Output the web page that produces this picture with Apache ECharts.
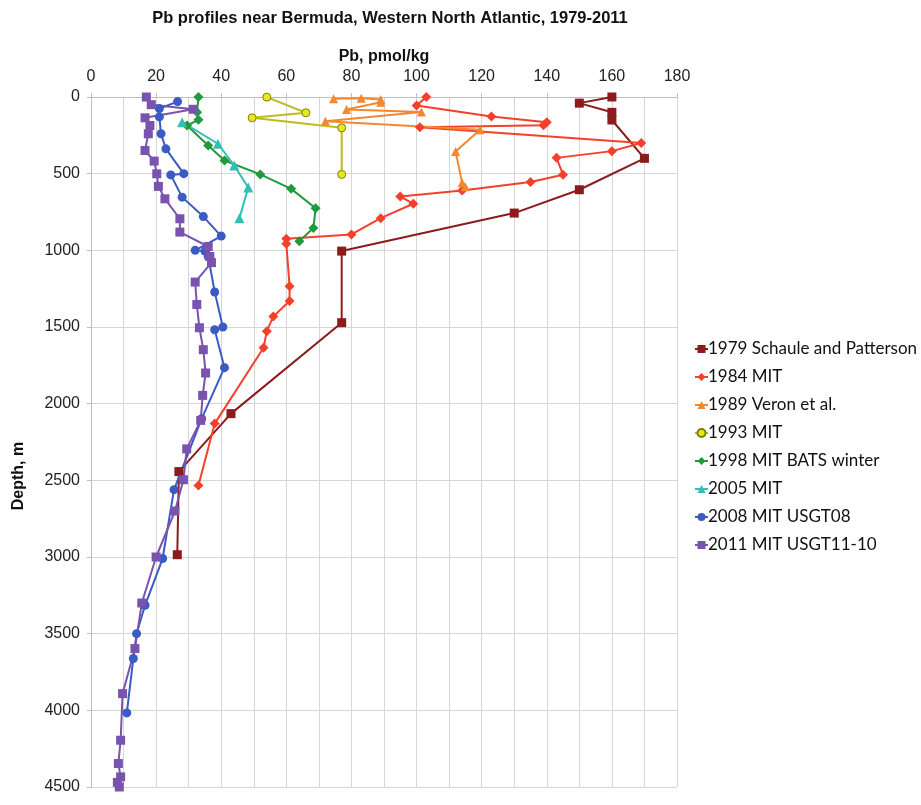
<!DOCTYPE html>
<html>
<head>
<meta charset="utf-8">
<title>Pb profiles near Bermuda</title>
<script src="https://cdn.jsdelivr.net/npm/echarts@6/dist/echarts.min.js"></script>
<style>
  html, body { margin: 0; padding: 0; background: #fff; }
  #chart { width: 921px; height: 805px; }
</style>
</head>
<body>
<div id="chart"></div>
<script>
// Pb concentration (pmol/kg) versus depth (m), one profile per cruise: [Pb, depth]
const seriesNames = [
  '1979 Schaule and Patterson',
  '1984 MIT',
  '1989 Veron et al.',
  '1993 MIT',
  '1998 MIT BATS winter',
  '2005 MIT',
  '2008 MIT USGT08',
  '2011 MIT USGT11-10'
];

const pb1979 = [[160,0],[150,40],[160,100],[160,150],[170,400],[150,605],[130,757],[77,1005],[77,1472],[43,2065],[27,2443],[26.5,2985]];
const pb1984 = [[103,0],[100,55],[123,127],[140,165],[139,185],[101,197],[169,300],[160,353],[143,397],[145,507],[135,555],[114,610],[95,649],[99,696],[89,790],[80,896],[60,925],[60,957],[61,1235],[61,1331],[56,1431],[54,1527],[53,1635],[38,2130],[33,2533]];
const pb1989 = [[74.5,12],[83,8],[89,16],[89,34],[78.5,82],[101.5,98],[72,158],[119.5,214],[112,355],[114,560],[115,585]];
const pb1993 = [[54,1],[66,103],[49.5,136],[77,201],[77,505]];
const pb1998 = [[33,0],[32.6,99],[33,149],[29.5,186],[36,316],[41,414],[52,505],[61.5,599],[69,725],[68.3,855],[64,940]];
const pb2005 = [[28,164],[39,305],[44,447],[48.3,590],[45.6,790]];
const pb2008 = [[26.6,30],[21,75],[21,130],[21.5,240],[23,338],[28.5,500],[24.5,508],[28,653],[34.5,780],[40,907],[32,1000],[35,1005],[36,1040],[38,1272],[40.5,1500],[38,1518],[41,1765],[34,2098],[25.5,2561],[22,3010],[16.6,3315],[14,3500],[13,3662],[11,4017]];
const pb2011 = [[17,0],[18.5,50],[31.4,80],[16.6,136],[18.1,186],[17.6,240],[16.6,349],[19.4,418],[20.2,501],[20.7,583],[22.7,664],[27.3,794],[27.3,881],[36,975],[36.5,1040],[37,1080],[32,1207],[32.5,1353],[33.3,1505],[34.5,1648],[35.2,1800],[34.3,1946],[33.7,2109],[29.4,2295],[28.4,2496],[25.8,2700],[20,3000],[15.6,3300],[13.5,3597],[9.7,3891],[9.1,4195],[8.4,4347],[9.1,4434],[8.1,4470],[8.7,4500]];

const profiles = [pb1979, pb1984, pb1989, pb1993, pb1998, pb2005, pb2008, pb2011];

// Line colour, marker shape/size and marker fill for each profile
const lineColors = ['#8c1b1b', '#f4402a', '#f6872f', '#bcbd1c', '#1f9a3d', '#33bfb6', '#3b5bc4', '#7a53ae'];
const markerShapes = ['rect', 'diamond', 'triangle', 'circle', 'diamond', 'triangle', 'circle', 'rect'];
const markerSizes = [9, 10, 9, 8, 10, 10, 9, 9];
const markerFills = ['#8c1b1b', '#f4402a', '#f6872f', '#e8e81c', '#1f9a3d', '#33bfb6', '#3b5bc4', '#7a53ae'];

// Axis ranges and ticks
const pbMin = 0, pbMax = 180, pbStep = 20;
const depthMin = 0, depthMax = 4500, depthStep = 500;

const chart = echarts.init(document.getElementById('chart'), null, { renderer: 'canvas' });

const gridColor = '#d6d6d6';
const axisFont = 'Liberation Sans, Arial, sans-serif';

const series = profiles.map((data, i) => ({
  name: seriesNames[i],
  type: 'line',
  data: data,
  symbol: markerShapes[i],
  symbolSize: markerSizes[i],
  showAllSymbol: true,
  clip: true,
  lineStyle: { color: lineColors[i], width: 2 },
  itemStyle: {
    color: markerFills[i],
    borderColor: i === 3 ? '#7d7e10' : markerFills[i],
    borderWidth: i === 3 ? 1 : 0
  },
  emphasis: { disabled: true },
  animation: false
}));

chart.setOption({
  backgroundColor: '#fff',
  animation: false,
  title: {
    text: 'Pb profiles near Bermuda, Western North Atlantic, 1979-2011',
    left: 385,
    top: 5,
    textAlign: 'center',
    textStyle: { fontFamily: axisFont, fontSize: 16.5, fontWeight: 'bold', color: '#111' }
  },
  legend: {
    orient: 'vertical',
    left: 689,
    top: 335,
    itemWidth: 13,
    itemHeight: 10,
    itemGap: 10,
    data: seriesNames,
    textStyle: { fontFamily: 'Lato, sans-serif', fontSize: 17, lineHeight: 18, color: '#111', padding: [0, 0, 0, -5] }
  },
  grid: { left: 91, right: 244, top: 97, bottom: 18, containLabel: false },
  xAxis: {
    type: 'value',
    position: 'top',
    min: pbMin,
    max: pbMax,
    interval: pbStep,
    name: 'Pb, pmol/kg',
    nameLocation: 'middle',
    nameGap: 32,
    nameTextStyle: { fontFamily: axisFont, fontSize: 16, fontWeight: 'bold', color: '#111' },
    axisLine: { show: true, lineStyle: { color: '#bdbdbd', width: 1 } },
    axisTick: { show: true, length: 4, lineStyle: { color: '#bdbdbd' } },
    axisLabel: { fontFamily: axisFont, fontSize: 16, color: '#222', margin: 12 },
    splitLine: { show: true, lineStyle: { color: gridColor, width: 1 } },
    minorTick: { show: false, splitNumber: 2 },
    minorSplitLine: { show: true, lineStyle: { color: gridColor, width: 1 } }
  },
  yAxis: {
    type: 'value',
    inverse: true,
    min: depthMin,
    max: depthMax,
    interval: depthStep,
    name: 'Depth, m',
    nameLocation: 'middle',
    nameGap: 64,
    nameRotate: 90,
    nameTextStyle: { fontFamily: axisFont, fontSize: 16, fontWeight: 'bold', color: '#111', padding: [0, 68, 0, 0] },
    axisLine: { show: true, lineStyle: { color: '#bdbdbd', width: 1 } },
    axisTick: { show: true, length: 4, lineStyle: { color: '#bdbdbd' } },
    axisLabel: { fontFamily: axisFont, fontSize: 16, color: '#222', margin: 11, formatter: v => String(v) },
    splitLine: { show: true, lineStyle: { color: gridColor, width: 1 } }
  },
  series: series
});
</script>
</body>
</html>
